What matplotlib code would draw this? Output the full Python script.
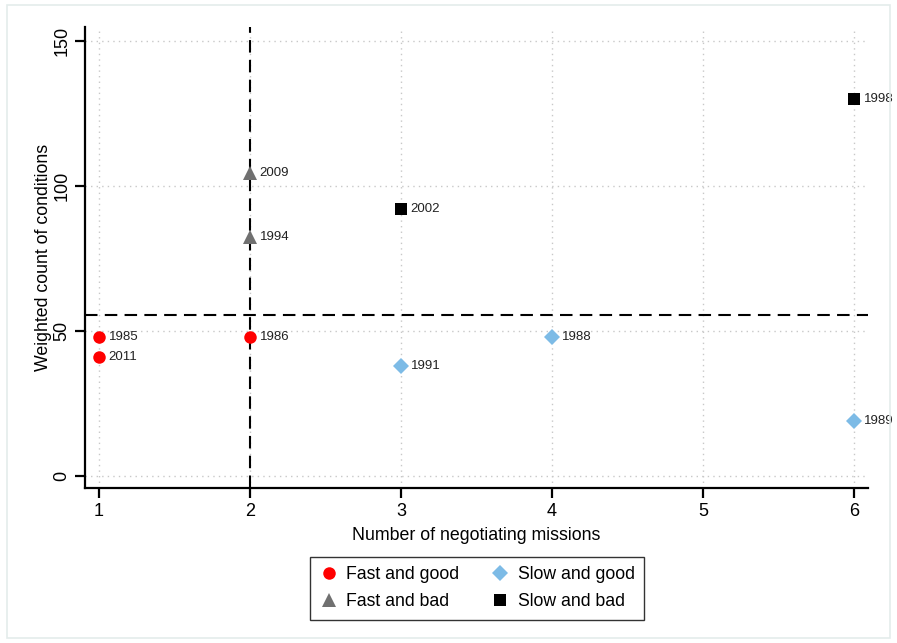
import matplotlib.pyplot as plt
from matplotlib.patches import Rectangle

plt.rcParams['font.family'] = ['Liberation Sans', 'DejaVu Sans']

# data
groups = ["Fast and good", "Fast and bad", "Slow and good", "Slow and bad"]
fast_good_x = [1, 1, 2]
fast_good_y = [48, 41, 48]
fast_good_lab = ["1985", "2011", "1986"]
fast_bad_x = [2, 2]
fast_bad_y = [104.5, 82.5]
fast_bad_lab = ["2009", "1994"]
slow_good_x = [3, 4, 6]
slow_good_y = [38, 48, 19]
slow_good_lab = ["1991", "1988", "1989"]
slow_bad_x = [3, 6]
slow_bad_y = [92, 130]
slow_bad_lab = ["2002", "1998"]

cut_x = 2
cut_y = 55.5

fig = plt.figure(figsize=(8.97, 6.43), dpi=100)
ax = fig.add_axes([0.0948, 0.241, 0.873, 0.717])

series = [
    (fast_good_x, fast_good_y, fast_good_lab, "o", "#ff0000", 9),
    (fast_bad_x, fast_bad_y, fast_bad_lab, "^", "#707070", 9.5),
    (slow_good_x, slow_good_y, slow_good_lab, "D", "#7dbbe6", 8.5),
    (slow_bad_x, slow_bad_y, slow_bad_lab, "s", "#000000", 8.5),
]

for name, (xs, ys, labs, m, c, ms) in zip(groups, series):
    ax.plot(xs, ys, linestyle="none", marker=m, color=c, markersize=ms,
            markeredgewidth=0, label=name, zorder=3)
    for x, y, t in zip(xs, ys, labs):
        ax.annotate(t, (x, y), xytext=(7, 0), textcoords="offset points",
                    va="center", ha="left", fontsize=9.5, color="#222222",
                    annotation_clip=False)

ax.axvline(cut_x, color="black", linestyle=(0, (6, 3.5)), linewidth=1.5, zorder=2)
ax.axhline(cut_y, color="black", linestyle=(0, (6, 3.5)), linewidth=1.5, zorder=2)

ax.set_xlim(0.907, 6.093)
ax.set_ylim(-4.1, 154.8)
ax.set_xticks([1, 2, 3, 4, 5, 6])
ax.set_yticks([0, 50, 100, 150])
ax.grid(True, color="#c8c8c8", linestyle=(0, (1, 3)), linewidth=1)
ax.set_axisbelow(True)

for s in ["top", "right"]:
    ax.spines[s].set_visible(False)
for s in ["left", "bottom"]:
    ax.spines[s].set_linewidth(1.6)
ax.tick_params(length=7, width=1.6, labelsize=13)
for lab in ax.get_yticklabels():
    lab.set_rotation(90)
    lab.set_va("center")

ax.set_xlabel("Number of negotiating missions", fontsize=12.8, labelpad=5)
ax.set_ylabel("Weighted count of conditions", fontsize=12.8, labelpad=1)

leg = fig.legend(loc="upper center", bbox_to_anchor=(0.532, 0.1425), ncol=2,
                 fontsize=12.7, frameon=True, fancybox=False, edgecolor="black",
                 handletextpad=0.5, columnspacing=1.8, borderpad=0.55,
                 borderaxespad=0.3, labelspacing=0.55, handlelength=1.0)
leg.get_frame().set_linewidth(1.0)

fig.patches.append(Rectangle((0.008, 0.008), 0.984, 0.984, transform=fig.transFigure,
                             fill=False, edgecolor="#e4eceb", linewidth=1.2))

fig.savefig("out.png", dpi=100)
